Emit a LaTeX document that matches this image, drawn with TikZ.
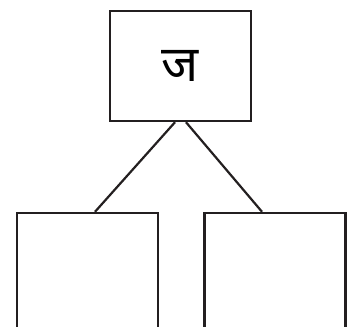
\documentclass[tikz,border=0pt]{standalone}
\usepackage{fontspec}
\newfontfamily\devafont[Script=Devanagari]{Noto Sans}
\definecolor{linegray}{RGB}{35,31,32}
\usepackage{tikz}
\usetikzlibrary{positioning}

\begin{document}
\begin{tikzpicture}[x=1pt, y=-1pt,
    treebox/.style={draw=linegray, line width=2.4pt, minimum width=141pt, inner sep=0pt},
    branch/.style={draw=linegray, line width=2.2pt}]
        \useasboundingbox (0,0) rectangle (358,326);
        \clip (0,0) rectangle (358,326);
        % root with the letter
        \node[treebox, minimum height=110pt, font=\devafont\fontsize{50}{54}\selectfont]
          (root) at (180.5, 66) {ज};
        % children, cut off by the lower edge
        \node[treebox, minimum height=200pt] (leftkid) at (87.5, 313) {};
        \node[treebox, minimum height=200pt] (rightkid) at (275, 313) {};
        \draw[branch] ([xshift=-5.5pt]root.south) -- ([xshift=7.5pt]leftkid.north);
        \draw[branch] ([xshift=5.5pt]root.south) -- ([xshift=-13pt]rightkid.north);
      \end{tikzpicture}
\end{document}
